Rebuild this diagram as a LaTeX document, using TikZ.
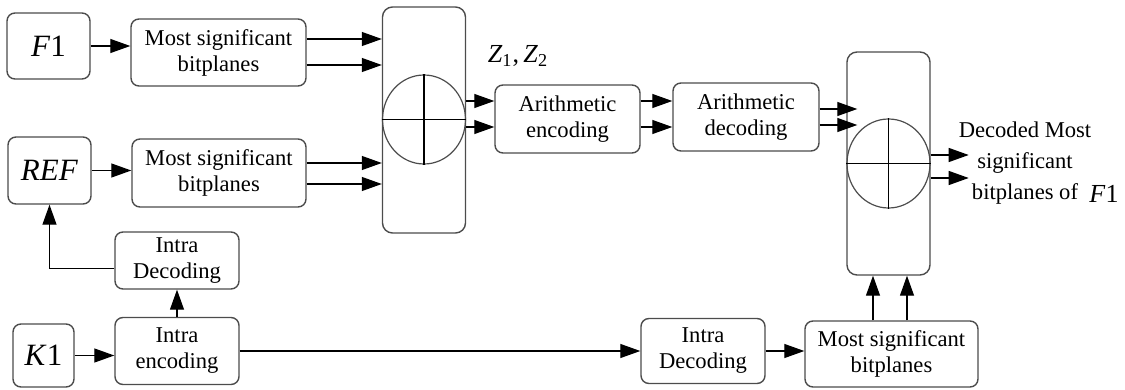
\documentclass[tikz,border=0pt]{standalone}
\usepackage{fontspec}
\setmainfont{Liberation Serif}
\usetikzlibrary{positioning, arrows.meta, shapes.geometric, calc}

\begin{document}
\begin{tikzpicture}[x=0.5pt, y=-0.5pt,
  font=\fontsize{11.3}{13}\selectfont,
  blk/.style={draw=black!70, rounded corners=4pt, line width=0.7pt,
              align=center, inner sep=0pt},
  srcblk/.style={blk, minimum width=41.5pt, minimum height=33pt,
                 font=\fontsize{15.5}{18}\selectfont},
  sumbox/.style={draw=black!70, rounded corners=5pt, line width=0.7pt,
                 minimum width=41.5pt, inner sep=0pt},
  xorcirc/.style={draw=black!70, ellipse, line width=0.6pt, inner sep=0pt,
                  minimum width=41.5pt, minimum height=44.5pt},
  link/.style={-{Triangle[length=10pt,width=7pt]}, line width=0.6pt}
]
\useasboundingbox (0,0) rectangle (1125,390);

% sources
\node[srcblk] (f1)  at (48.5,46)  {\textit{F}1};
\node[srcblk, minimum height=33.5pt] (ref) at (49.5,170.5) {\textit{REF}};
\node[srcblk, minimum width=30.5pt, minimum height=31.5pt] (k1) at (43.5,355.5) {\textit{K}1};

% bitplane and coding blocks
\node[blk, minimum width=87.5pt, minimum height=33.5pt] (msb1) at (218.5,52.5) {Most significant\\bitplanes};
\node[blk, minimum width=87pt, minimum height=34pt] (msb2) at (219,173) {Most significant\\bitplanes};
\node[blk, minimum width=62pt, minimum height=28.5pt] (idl) at (177,260.5) {Intra\\Decoding};
\node[blk, minimum width=62pt, minimum height=33.5pt] (ie) at (177,351) {Intra\\encoding};
\node[blk, minimum width=72.5pt, minimum height=34pt] (ae) at (567.5,119) {Arithmetic\\encoding};
\node[blk, minimum width=73pt, minimum height=34pt] (ad) at (746,117) {Arithmetic\\decoding};
\node[blk, minimum width=62pt, minimum height=32.5pt] (idr) at (703,351) {Intra\\Decoding};
\node[blk, minimum width=86.5pt, minimum height=33pt] (msb3) at (891.5,354) {Most significant\\bitplanes};

% combiners
\node[sumbox, minimum height=113pt] (sum1) at (424,120) {};
\node[xorcirc] (xor1) at (424,119.5) {};
\draw[line width=0.6pt] (xor1.north) -- (xor1.south) (xor1.west) -- (xor1.east);
\node[sumbox, minimum height=111.5pt] (sum2) at (888.5,163.5) {};
\node[xorcirc] (xor2) at (888.5,163.5) {};
\draw[line width=0.6pt] (xor2.north) -- (xor2.south) (xor2.west) -- (xor2.east);

% labels
\node (zlab) at (518,56) {\fontsize{13}{14}\selectfont\textit{Z}\textsubscript{1},\,\textit{Z}\textsubscript{2}};
\node[align=center, font=\fontsize{11.3}{15.5}\selectfont] (outtxt) at (1025,163) {Decoded Most\\significant\\bitplanes of};
\node[font=\fontsize{13}{14}\selectfont] (outf) at (1104,194) {\textit{F}1};

% connectors
\draw[link] (f1) -- (msb1.west |- f1);
\draw[link] (ref) -- (msb2.west |- ref);
\draw[link] (k1) -- (ie.west |- k1);
\draw[link] (ie.north) -- (idl.south);
\draw[link] ([yshift=-4pt]idl.west) -| (ref.south);
\draw[link] (ie.east) -- (idr.west);
\draw[link] (idr) -- (msb3.west |- idr);
\foreach \y in {39,65}
  \draw[link] (msb1.east |- 0,\y) -- (sum1.west |- 0,\y);
\foreach \y in {163,184}
  \draw[link] (msb2.east |- 0,\y) -- (sum1.west |- 0,\y);
\foreach \y in {101,127} {
  \draw[link] (sum1.east |- 0,\y) -- (ae.west |- 0,\y);
  \draw[link] (ae.east |- 0,\y) -- (ad.west |- 0,\y);
}
\foreach \y in {109,125}
  \draw[link] (ad.east |- 0,\y) -- ($(sum2.west |- 0,\y)+(11,0)$);
\foreach \y in {155,178}
  \draw[link] (sum2.east |- 0,\y) -- ($(sum2.east |- 0,\y)+(38,0)$);
\foreach \x in {873,907}
  \draw[link] (msb3.north -| \x,0) -- (sum2.south -| \x,0);
\end{tikzpicture}
\end{document}
